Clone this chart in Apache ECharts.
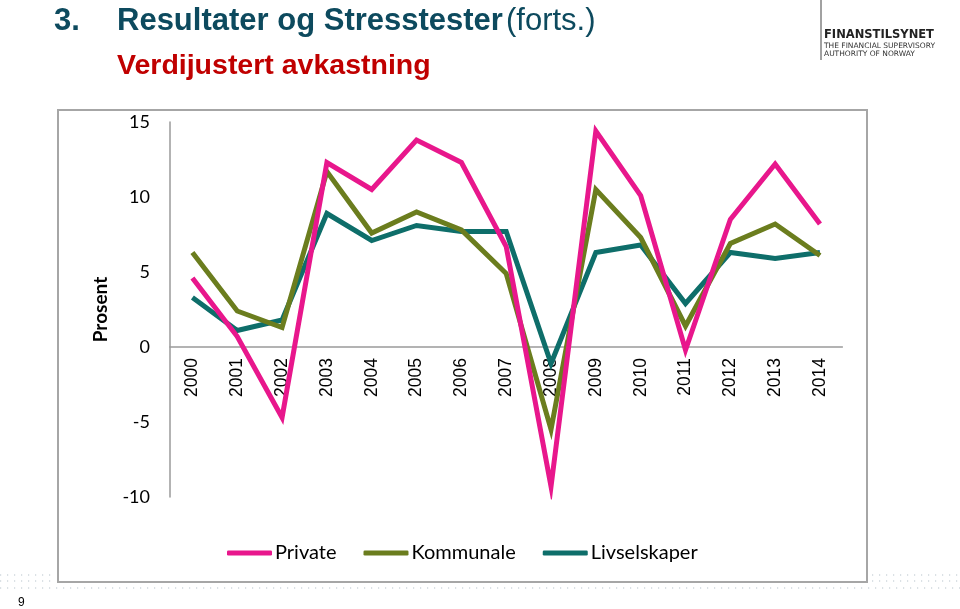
<!DOCTYPE html>
<html>
<head>
<meta charset="utf-8">
<script src="https://cdn.jsdelivr.net/npm/echarts@6/dist/echarts.min.js"></script>
<style>
html,body{margin:0;padding:0;background:#fff;}
#chart{width:960px;height:609px;}
</style>
</head>
<body>
<div id="chart"></div>
<script>
const years = ['2000','2001','2002','2003','2004','2005','2006','2007','2008','2009','2010','2011','2012','2013','2014'];
const privateVals = [4.6, 0.7, -4.7, 12.3, 10.5, 13.8, 12.3, 6.7, -9.3, 14.4, 10.1, -0.2, 8.5, 12.2, 8.2];
const kommunaleVals = [6.3, 2.4, 1.3, 11.7, 7.6, 9.0, 7.8, 4.9, -5.5, 10.5, 7.3, 1.4, 6.9, 8.2, 6.1];
const livVals = [3.3, 1.1, 1.8, 8.9, 7.1, 8.1, 7.7, 7.7, -1.1, 6.3, 6.8, 2.9, 6.3, 5.9, 6.3];
const seriesNames = ['Private', 'Kommunale', 'Livselskaper'];
const colors = ['#e8178c', '#6b7d1e', '#0e6e6a'];

const chart = echarts.init(document.getElementById('chart'));
const dataSets = [privateVals, kommunaleVals, livVals];

const dotted = (x1, x2, y) => ({
  type: 'line', silent: true,
  shape: {x1: x1, y1: y, x2: x2, y2: y},
  style: {stroke: '#b8c4cc', lineWidth: 1.2, lineDash: [1.2, 5.8]}
});

chart.setOption({
  animation: false,
  backgroundColor: '#fff',
  grid: {left: 170, right: 117.6, top: 122, bottom: 112},
  legend: {
    data: seriesNames,
    bottom: 41, left: 222,
    itemWidth: 45, itemHeight: 5, itemGap: 27,
    icon: 'roundRect',
    textStyle: {fontFamily: 'Lato', fontSize: 20, color: '#000', padding: [0, 0, 0, -2]}
  },
  xAxis: {
    type: 'category',
    data: years,
    boundaryGap: true,
    position: 'bottom',
    offset: -150,
    axisLine: {onZero: false, lineStyle: {color: '#9a9a9a', width: 1.5}},
    axisTick: {show: false},
    axisLabel: {rotate: 90, margin: 11, fontFamily: 'Liberation Sans', fontSize: 17.5, color: '#000'}
  },
  yAxis: {
    type: 'value',
    min: -10, max: 15, interval: 5,
    name: 'Prosent',
    nameLocation: 'middle',
    nameGap: 60,
    nameRotate: 90,
    nameTextStyle: {fontFamily: 'Lato', fontWeight: 'bold', fontSize: 19, color: '#000'},
    splitLine: {show: false},
    axisLine: {show: true, lineStyle: {color: '#9a9a9a', width: 1.5}},
    axisTick: {show: false},
    axisLabel: {margin: 20, fontFamily: 'Lato', fontSize: 18, color: '#000'}
  },
  series: dataSets.map((d, i) => ({
    name: seriesNames[i],
    type: 'line',
    data: d,
    symbol: 'none',
    lineStyle: {width: 5, color: colors[i], join: 'miter'},
    itemStyle: {color: colors[i]},
    z: 3 - i
  })),
  graphic: [
    {type: 'rect', silent: true, z: -1, shape: {x: 58, y: 110, width: 809, height: 472},
      style: {fill: 'none', stroke: '#a6a6a6', lineWidth: 2}},
    {type: 'text', left: 54, top: 6, style: {text: '3.', font: 'bold 31px "Liberation Sans"', fill: '#0d4a5e'}},
    {type: 'text', left: 117, top: 6, style: {text: 'Resultater og Stresstester', font: 'bold 31px "Liberation Sans"', fill: '#0d4a5e'}},
    {type: 'text', left: 506, top: 6, style: {text: '(forts.)', font: '31px "Liberation Sans"', fill: '#0d4a5e'}},
    {type: 'text', left: 117, top: 52, style: {text: 'Verdijustert avkastning', font: 'bold 28.5px "Liberation Sans"', fill: '#c00000'}},
    {type: 'line', silent: true, shape: {x1: 821, y1: 0, x2: 821, y2: 60}, style: {stroke: '#444', lineWidth: 1}},
    {type: 'text', left: 824, top: 29, style: {text: 'FINANSTILSYNET', font: 'bold 11.5px "DejaVu Sans"', fill: '#222'}},
    {type: 'text', left: 824, top: 42, style: {text: 'THE FINANCIAL SUPERVISORY', font: '7.5px "DejaVu Sans"', fill: '#333'}},
    {type: 'text', left: 824, top: 50, style: {text: 'AUTHORITY OF NORWAY', font: '7.5px "DejaVu Sans"', fill: '#333'}},
    dotted(0, 55, 575), dotted(0, 55, 581), dotted(0, 960, 588),
    dotted(872, 960, 575), dotted(872, 960, 581),
    {type: 'text', left: 18, top: 597, style: {text: '9', font: '12px "Liberation Sans"', fill: '#000'}}
  ]
});
</script>
</body>
</html>
